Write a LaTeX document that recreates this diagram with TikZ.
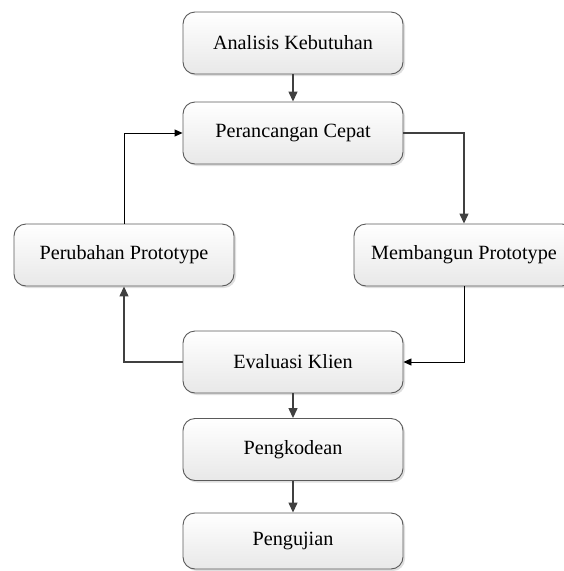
\documentclass[tikz,border=0pt]{standalone}
\usepackage{fontspec}
\setmainfont{Liberation Serif}
\usetikzlibrary{arrows.meta,shadows,positioning}
\definecolor{boxline}{HTML}{5A5A5A}
\definecolor{arrowgray}{HTML}{404040}
\begin{document}
\begin{tikzpicture}[x=1pt,y=-1pt,
  procbox/.style={draw=boxline, line width=0.9pt, rounded corners=12pt,
    minimum width=220pt, minimum height=62pt, inner sep=0pt,
    top color=white, bottom color=black!9,
    drop shadow={opacity=0.25, shadow xshift=2pt, shadow yshift=-2pt},
    font=\fontsize{20.2}{24}\selectfont},
  flow/.style={draw=arrowgray, line width=1.3pt, -{Triangle[length=10pt,width=9pt]}},
  loop/.style={draw=black, line width=0.9pt, -{Triangle[length=8pt,width=7pt]}}
]
\useasboundingbox (0,0) rectangle (564,571);
\node[procbox] (ana) at (293,43) {Analisis Kebutuhan};
\node[procbox] (per) at (293,133) {Perancangan Cepat};
\node[procbox] (ubah) at (124,255) {Perubahan Prototype};
\node[procbox] (bang) at (464,255) {Membangun Prototype};
\node[procbox] (eva) at (293,362) {Evaluasi Klien};
\node[procbox] (kode) at (293,449.5) {Pengkodean};
\node[procbox, minimum height=56pt] (uji) at (293,541) {Pengujian};

\draw[flow] (ana.south) -- (per.north);
\draw[flow] (per.east) -| (bang.north);
\draw[loop] (bang.south) |- (eva.east);
\draw[flow] (eva.west) -| (ubah.south);
\draw[loop] (ubah.north) |- (per.west);
\draw[flow] (eva.south) -- (kode.north);
\draw[flow] (kode.south) -- (uji.north);
\end{tikzpicture}
\end{document}
